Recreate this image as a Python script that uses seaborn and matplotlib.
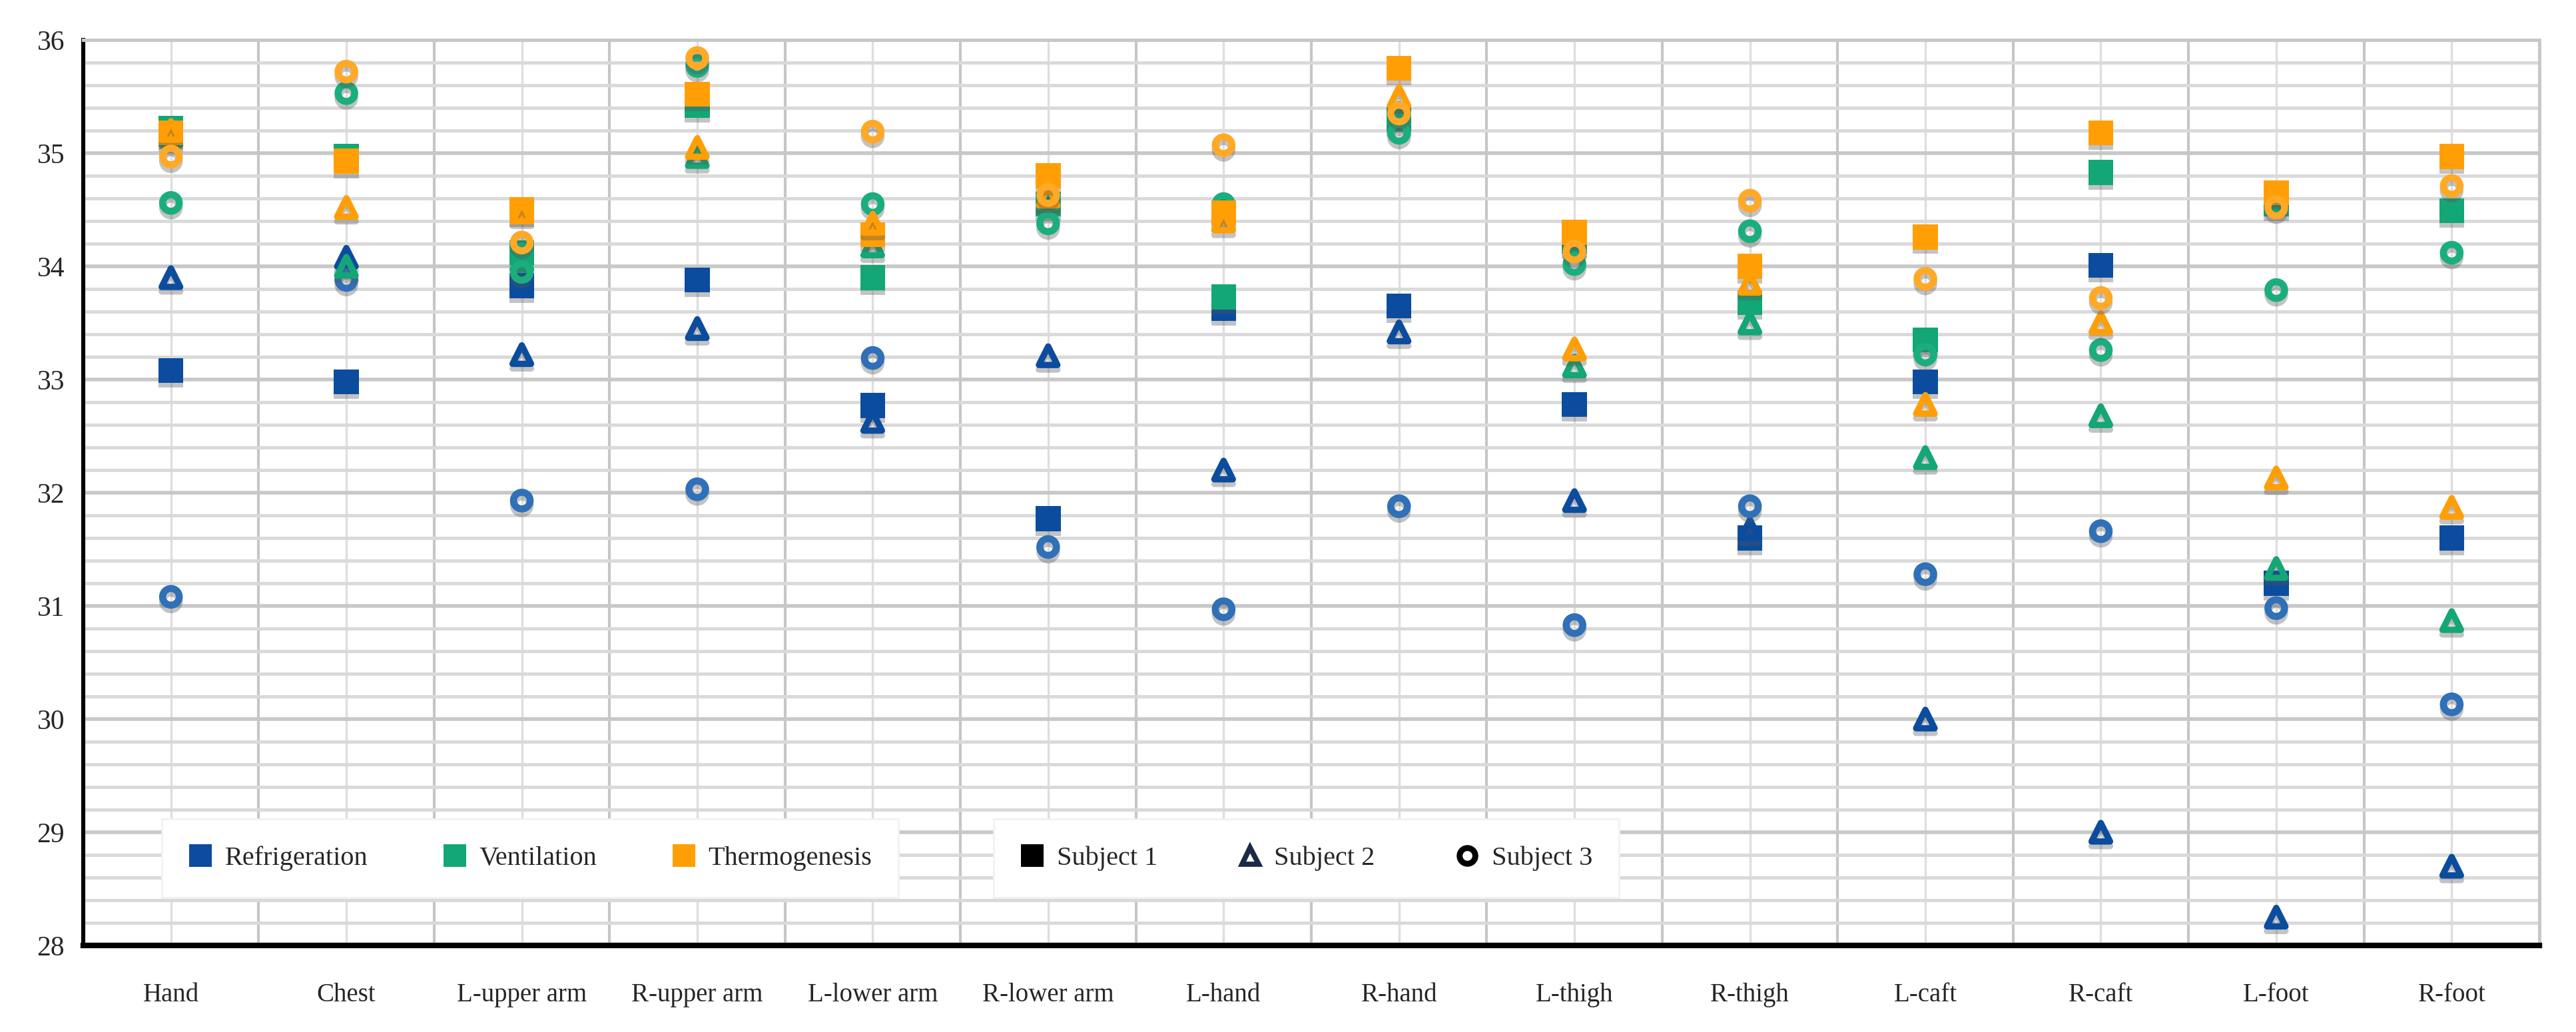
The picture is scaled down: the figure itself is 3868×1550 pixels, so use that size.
import numpy as np
import pandas as pd
import matplotlib
matplotlib.use("Agg")
import matplotlib.pyplot as plt
import matplotlib.patheffects as pe
from matplotlib.lines import Line2D
import seaborn as sns

# ===============================
# DATA
# ===============================
parts = ["Hand", "Chest", "L-upper arm", "R-upper arm", "L-lower arm", "R-lower arm",
         "L-hand", "R-hand", "L-thigh", "R-thigh", "L-caft", "R-caft", "L-foot", "R-foot"]
conditions = ["Refrigeration", "Ventilation", "Thermogenesis"]
subjects = ["Subject 1", "Subject 2", "Subject 3"]

refrig_s1 = [33.08, 32.98, 33.83, 33.88, 32.77, 31.77, 33.63, 33.65, 32.78, 31.60, 32.98, 34.01, 31.20, 31.60]
refrig_s2 = [33.90, 34.08, 33.22, 33.45, 32.63, 33.21, 32.20, 33.42, 31.93, 31.68, 30.00, 29.00, 28.25, 28.70]
refrig_s3 = [31.08, 33.88, 31.93, 32.03, 33.19, 31.52, 30.97, 31.88, 30.83, 31.88, 31.28, 31.66, 30.98, 30.13]

vent_s1 = [35.22, 34.97, 34.12, 35.42, 33.90, 34.55, 33.73, 35.30, 34.22, 33.68, 33.35, 34.83, 34.55, 34.49]
vent_s2 = [35.15, 34.00, 34.05, 34.97, 34.18, 34.60, 34.50, 35.35, 33.12, 33.50, 32.31, 32.68, 31.33, 30.87]
vent_s3 = [34.56, 35.53, 33.95, 35.77, 34.55, 34.38, 34.55, 35.18, 34.02, 34.31, 33.22, 33.26, 33.79, 34.12]

thermo_s1 = [35.18, 34.93, 34.50, 35.52, 34.28, 34.80, 34.47, 35.75, 34.30, 34.00, 34.26, 35.18, 34.65, 34.97]
thermo_s2 = [35.20, 34.52, 34.48, 35.05, 34.38, 34.62, 34.40, 35.50, 33.27, 33.85, 32.78, 33.50, 32.13, 31.87]
thermo_s3 = [34.97, 35.72, 34.21, 35.84, 35.19, 34.63, 35.07, 35.35, 34.13, 34.58, 33.89, 33.72, 34.52, 34.71]

values = {
    ("Refrigeration", "Subject 1"): refrig_s1,
    ("Refrigeration", "Subject 2"): refrig_s2,
    ("Refrigeration", "Subject 3"): refrig_s3,
    ("Ventilation", "Subject 1"): vent_s1,
    ("Ventilation", "Subject 2"): vent_s2,
    ("Ventilation", "Subject 3"): vent_s3,
    ("Thermogenesis", "Subject 1"): thermo_s1,
    ("Thermogenesis", "Subject 2"): thermo_s2,
    ("Thermogenesis", "Subject 3"): thermo_s3,
}

rows = []
for (cond, subj), vals in values.items():
    for part, v in zip(parts, vals):
        rows.append({"part": part, "temp": v, "condition": cond, "subject": subj})
df = pd.DataFrame(rows)

# ===============================
# STYLE
# ===============================
colors = {"Refrigeration": "#0B4C9E", "Ventilation": "#13A676", "Thermogenesis": "#FF9F05"}
# hollow circles look a little lighter in the original
ring_colors = {"Refrigeration": "#2F70B8", "Ventilation": "#1AAE7E", "Thermogenesis": "#FFA926"}
markers = {"Subject 1": "s", "Subject 2": "^", "Subject 3": "o"}
sizes = {"Subject 1": 13.5, "Subject 2": 10.0, "Subject 3": 9.0}
edge_w = {"Subject 1": 0.0, "Subject 2": 3.4, "Subject 3": 3.8}

sns.set_style("white")
plt.rcParams["font.family"] = ["Liberation Serif", "DejaVu Serif"]

fig = plt.figure(figsize=(19.34, 7.75), dpi=200)
ax = fig.add_axes([0.0323, 0.0839, 0.9535, 0.8774])

# ===============================
# SCATTER
# ===============================
for cond in conditions:
    for subj in subjects:
        sub = df[(df["condition"] == cond) & (df["subject"] == subj)]
        n_before = len(ax.collections)
        sns.stripplot(data=sub, x="part", y="temp", order=parts, color=colors[cond],
                      marker=markers[subj], size=sizes[subj], jitter=False,
                      linewidth=0, ax=ax, zorder=4)
        for coll in ax.collections[n_before:]:
            if subj == "Subject 1":
                coll.set_path_effects([pe.SimplePatchShadow(offset=(0, -2.5), shadow_rgbFace="#555555", alpha=0.35),
                                       pe.Normal()])
            else:
                ec = ring_colors[cond] if subj == "Subject 3" else colors[cond]
                coll.set_facecolors("none")
                coll.set_edgecolors(ec)
                coll.set_linewidths(edge_w[subj])
                coll.set_joinstyle("round")
                coll.set_path_effects([pe.SimpleLineShadow(offset=(0, -2.5), shadow_color="#555555", alpha=0.35,
                                                           linewidth=edge_w[subj]),
                                       pe.Normal()])

# ===============================
# AXES
# ===============================
ax.set_xlim(-0.5, len(parts) - 0.5)
ax.set_ylim(28, 36)
ax.set_xlabel("")
ax.set_ylabel("")

# boundaries between body parts carry the tick marks, centres carry the labels
ax.set_xticks(np.arange(0.5, len(parts), 1.0))
ax.set_xticklabels([])
ax.set_xticks(np.arange(len(parts)), parts, minor=True)
ax.set_yticks(np.arange(28, 37, 1))
ax.set_yticks(np.arange(28, 36.01, 0.2), minor=True)

ax.tick_params(axis="x", which="major", direction="in", length=10, width=2, color="black")
ax.tick_params(axis="x", which="minor", length=0, pad=20, labelsize=14)
ax.tick_params(axis="y", which="major", direction="in", length=6, width=2.2, color="black",
               pad=10, labelsize=15)
ax.tick_params(axis="y", which="minor", length=0)

ax.grid(False)
ax.grid(axis="x", which="major", color="#c6c6c6", linewidth=1.5, zorder=0)
ax.grid(axis="x", which="minor", color="#dedede", linewidth=1.2, zorder=0)
ax.grid(axis="y", which="major", color="#c8c8c8", linewidth=2.0, zorder=0)
ax.grid(axis="y", which="minor", color="#dadada", linewidth=1.8, zorder=0)
ax.set_axisbelow(True)

for side in ["top", "right"]:
    ax.spines[side].set_color("#c8c8c8")
    ax.spines[side].set_linewidth(1.8)
ax.spines["left"].set_color("black")
ax.spines["left"].set_linewidth(2.2)
ax.spines["bottom"].set_color("black")
ax.spines["bottom"].set_linewidth(3.0)

# ===============================
# LEGENDS
# ===============================
cond_handles = [Line2D([], [], linestyle="none", marker="s", markersize=12,
                       markerfacecolor=colors[c], markeredgewidth=0) for c in conditions]
subj_handles = [
    Line2D([], [], linestyle="none", marker="s", markersize=12, markerfacecolor="black", markeredgewidth=0),
    Line2D([], [], linestyle="none", marker="^", markersize=9, markerfacecolor="none",
           markeredgecolor="#1b2a47", markeredgewidth=2.8),
    Line2D([], [], linestyle="none", marker="o", markersize=8.5, markerfacecolor="none",
           markeredgecolor="black", markeredgewidth=3.2),
]

leg1 = ax.legend(cond_handles, conditions, loc="center", bbox_to_anchor=(0.182, 0.096), ncol=3,
                 fontsize=14.5, frameon=True, facecolor="white", edgecolor="#f2f2f2", framealpha=1,
                 fancybox=False, handlelength=0.9, handletextpad=0.45, columnspacing=2.8,
                 borderpad=1.0, borderaxespad=0)
leg1.set_zorder(6)
ax.add_artist(leg1)
leg2 = ax.legend(subj_handles, subjects, loc="center", bbox_to_anchor=(0.498, 0.096), ncol=3,
                 fontsize=14.5, frameon=True, facecolor="white", edgecolor="#f2f2f2", framealpha=1,
                 fancybox=False, handlelength=0.9, handletextpad=0.45, columnspacing=3.0,
                 borderpad=1.0, borderaxespad=0)
leg2.set_zorder(6)

fig.savefig("out.png", dpi=200, facecolor="white")
